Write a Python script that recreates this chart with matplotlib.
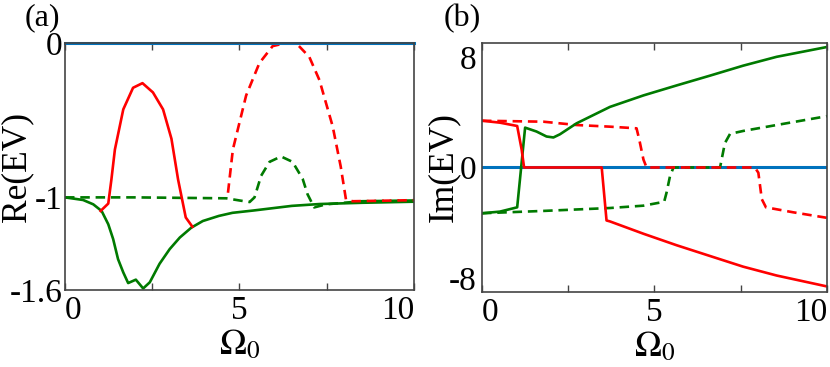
import matplotlib
matplotlib.use("Agg")
import matplotlib.pyplot as plt

plt.rcParams['font.family'] = ['Liberation Serif', 'DejaVu Serif']
plt.rcParams['mathtext.fontset'] = 'stix'
plt.rcParams['axes.unicode_minus'] = False

RED = '#ff0000'
GREEN = '#007a00'
BLUE = '#0072bd'

# ---------- panel (a): Re(EV) ----------
a_blue_x = [0, 10]
a_blue_y = [0, 0]

a_gs_x = [0, 0.52, 0.81, 1.05, 1.24, 1.38, 1.52, 1.67, 1.81, 2.03, 2.24, 2.43, 2.71, 3.0, 3.29,
          3.62, 3.95, 4.41, 4.8, 5.4, 6.5, 7.3, 8.5, 10]
a_gs_y = [-1.0, -1.017, -1.045, -1.088, -1.174, -1.27, -1.40, -1.486, -1.555, -1.533, -1.59, -1.55,
          -1.43, -1.335, -1.26, -1.196, -1.153, -1.12, -1.10, -1.085, -1.055, -1.043, -1.035, -1.028]

a_rs_x = [1.02, 1.24, 1.33, 1.43, 1.67, 1.95, 2.22, 2.52, 2.81, 3.05, 3.24, 3.46, 3.65]
a_rs_y = [-1.088, -1.04, -0.884, -0.69, -0.43, -0.29, -0.26, -0.32, -0.43, -0.62, -0.884, -1.13, -1.19]

a_rd_x = [4.67, 4.81, 5.19, 5.57, 5.95, 6.33, 6.62, 7.0, 7.29, 7.67, 7.9, 8.05, 8.24, 9.0, 10]
a_rd_y = [-0.97, -0.69, -0.34, -0.13, -0.02, 0.0, 0.0, -0.09, -0.24, -0.54, -0.8, -1.013, -1.025, -1.022, -1.018]

a_gd_x = [0, 2.0, 4.62, 5.0, 5.29, 5.43, 5.62, 5.86, 6.19, 6.52, 6.81, 6.95, 7.14, 7.48, 8.5, 10]
a_gd_y = [-1.0, -1.0, -1.006, -1.02, -1.03, -1.0, -0.86, -0.77, -0.735, -0.77, -0.88, -0.98, -1.065, -1.045, -1.025, -1.02]

# ---------- panel (b): Im(EV) ----------
b_blue_x = [0, 10]
b_blue_y = [0, 0]

b_rs_x = [0, 0.52, 1.02, 1.15, 1.22, 3.47, 3.61, 3.71, 4.68, 5.64, 6.61, 7.57, 8.54, 10]
b_rs_y = [3.38, 3.24, 3.0, 1.29, 0, 0, -3.83, -3.9, -4.79, -5.62, -6.4, -7.17, -7.81, -8.6]

b_gs_x = [0, 0.52, 1.02, 1.12, 1.25, 1.58, 1.87, 2.07, 2.26, 2.74, 3.71, 4.68, 5.64, 6.61, 7.57, 8.54, 10]
b_gs_y = [-3.31, -3.19, -2.88, -0.38, 2.88, 2.6, 2.24, 2.17, 2.4, 3.19, 4.38, 5.21, 5.93, 6.64, 7.36, 8.0, 8.71]

b_rd_x = [0, 1.78, 2.74, 3.71, 4.48, 4.56, 4.68, 4.77, 7.91, 8.01, 8.11, 8.23, 9.02, 10]
b_rd_y = [3.38, 3.31, 3.07, 2.95, 2.83, 2.0, 0.57, 0, 0, -0.38, -2.29, -2.88, -3.24, -3.64]

b_gd_x = [0, 1.78, 3.71, 4.68, 5.28, 5.35, 5.45, 5.55, 6.9, 7.04, 7.19, 7.57, 8.54, 10]
b_gd_y = [-3.31, -3.14, -2.93, -2.76, -2.48, -1.81, -0.62, 0, 0, 1.76, 2.43, 2.64, 3.07, 3.71]

x_ticks = [0, 2.5, 5, 7.5, 10]
x_ticklabels = ['0', '', '5', '', '10']

fig = plt.figure(figsize=(8.3, 3.67), dpi=100)
ax1 = fig.add_axes([0.0783, 0.2098, 0.4205, 0.673])
ax2 = fig.add_axes([0.5807, 0.2044, 0.4157, 0.6785])

lw = 1.9
dash = (0, (3.6, 2.2))

ax1.plot(a_gs_x, a_gs_y, color=GREEN, lw=lw)
ax1.plot(a_gd_x, a_gd_y, color=GREEN, lw=lw, linestyle=dash)
ax1.plot(a_rd_x, a_rd_y, color=RED, lw=lw, linestyle=dash)
ax1.plot(a_rs_x, a_rs_y, color=RED, lw=lw)
ax1.plot(a_blue_x, a_blue_y, color=BLUE, lw=2.2, clip_on=False)
ax1.set_xlim(0, 10)
ax1.set_ylim(-1.6, 0)
ax1.set_yticks([0, -1, -1.6])
ax1.set_yticklabels(['0', '-1', '-1.6'])
ax1.set_ylabel('Re(EV)', fontsize=25.5)
ax1.yaxis.set_label_coords(-0.092, 0.5)

ax2.plot(b_blue_x, b_blue_y, color=BLUE, lw=2.2)
ax2.plot(b_gd_x, b_gd_y, color=GREEN, lw=lw, linestyle=dash)
ax2.plot(b_rd_x, b_rd_y, color=RED, lw=lw, linestyle=dash)
ax2.plot(b_gs_x, b_gs_y, color=GREEN, lw=lw)
ax2.plot(b_rs_x, b_rs_y, color=RED, lw=lw)
ax2.set_xlim(0, 10)
ax2.set_ylim(-9, 9)
ax2.set_yticks([8, 0, -8])
ax2.set_yticklabels(['8', '0', '-8'])
ax2.set_ylabel('Im(EV)', fontsize=25.5)
ax2.yaxis.set_label_coords(-0.064, 0.5)

for ax, ypad in ((ax1, 2), (ax2, 4)):
    ax.set_xticks(x_ticks)
    ax.set_xticklabels(x_ticklabels)
    lbls = ax.get_xticklabels()
    lbls[0].set_horizontalalignment('left')
    lbls[-1].set_horizontalalignment('right')
    ax.set_xlabel(r'$\mathrm{\Omega}_0$', fontsize=26, labelpad=2.5)
    ax.tick_params(axis='x', direction='in', top=True, bottom=True, length=5, width=1.0,
                   color='#444444', labelsize=24, pad=4)
    ax.tick_params(axis='y', length=0, labelsize=24, pad=ypad)
    for s in ax.spines.values():
        s.set_color('#444444')
        s.set_linewidth(1.2)

fig.text(0.03, 0.99, '(a)', fontsize=23, va='top', ha='left')
fig.text(0.535, 0.99, '(b)', fontsize=23, va='top', ha='left')

fig.savefig('out.png', dpi=100)
